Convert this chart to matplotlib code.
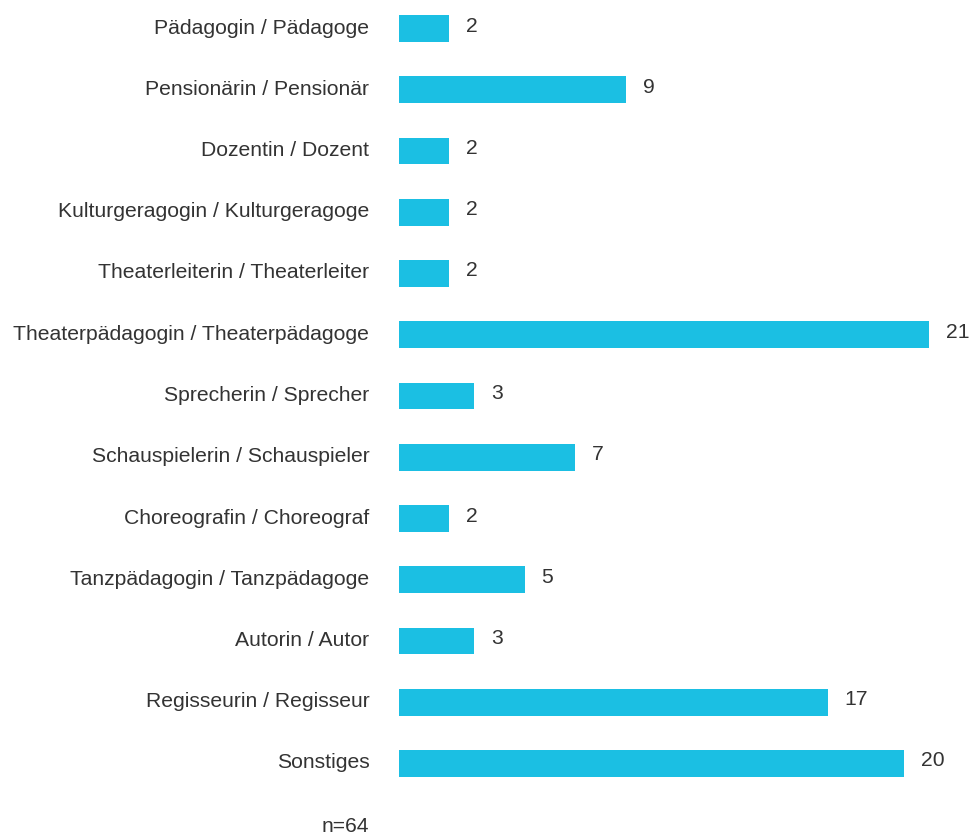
import numpy as np
import matplotlib.pyplot as plt
from matplotlib.transforms import ScaledTranslation

plt.rcParams['font.family'] = ['Liberation Sans', 'DejaVu Sans']

categories = [
    "Pädagogin / Pädagoge",
    "Pensionärin / Pensionär",
    "Dozentin / Dozent",
    "Kulturgeragogin / Kulturgeragoge",
    "Theaterleiterin / Theaterleiter",
    "Theaterpädagogin / Theaterpädagoge",
    "Sprecherin / Sprecher",
    "Schauspielerin / Schauspieler",
    "Choreografin / Choreograf",
    "Tanzpädagogin / Tanzpädagoge",
    "Autorin / Autor",
    "Regisseurin / Regisseur",
    "Sonstiges",
]
counts = [2, 9, 2, 2, 2, 21, 3, 7, 2, 5, 3, 17, 20]
n_total = 64

W, H = 971, 836
bar_color = "#1bbfe3"
text_color = "#333333"
fs = 15.2

fig = plt.figure(figsize=(W / 100, H / 100), dpi=100)
# axes placed in pixel terms: x=0 at 398.5 px, 25.27 px per unit
left = 398.5 / W
width = 22.5 * 25.27 / W
top_px, row_px = 28.5, 61.25
ax = fig.add_axes([left, 1 - (top_px + 12.6 * row_px) / H, width, 13 * row_px / H])

y = np.arange(len(categories))
ax.barh(y, counts, height=0.44, color=bar_color)
ax.set_xlim(0, 22.5)
ax.set_ylim(12.6, -0.4)

for yi, v in zip(y, counts):
    ax.annotate(str(v), (v, yi), xytext=(12, 1.8), textcoords="offset points",
                ha="left", va="center", fontsize=fs, color=text_color)

ax.set_yticks(y)
ax.set_yticklabels(categories, fontsize=fs, color=text_color)
ax.tick_params(axis="y", length=0, pad=21)
# labels sit a little above the bar centres in the original
shift = ScaledTranslation(0, 1.8 / 72, fig.dpi_scale_trans)
for lab in ax.get_yticklabels():
    lab.set_transform(lab.get_transform() + shift)
ax.set_xticks([])
for s in ax.spines.values():
    s.set_visible(False)

fig.text(369.5 / W, 1 - 832.5 / H, f"n={n_total}", ha="right", va="baseline",
         fontsize=fs, color=text_color)

fig.savefig("out.png", dpi=100, facecolor="white")
